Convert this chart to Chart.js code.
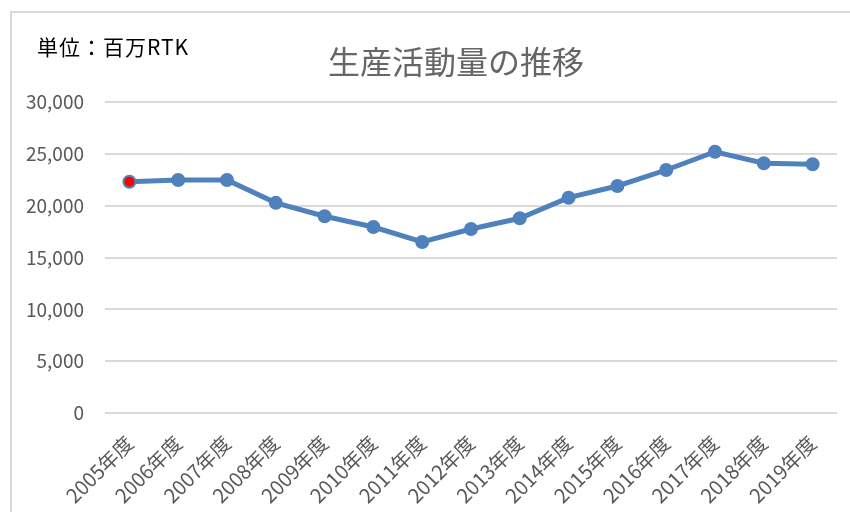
<!DOCTYPE html>
<html>
<head>
<meta charset="utf-8">
<script src="https://cdn.jsdelivr.net/npm/chart.js@4"></script>
<style>
    html, body { margin: 0; padding: 0; background: #fff; overflow: hidden; }
    #wrap { position: relative; width: 850px; height: 512px; }
    #frame { position: absolute; left: 10px; top: 11px; width: 860px; height: 520px; border: 2px solid #d9d9d9; box-sizing: border-box; }
    #chart { position: absolute; left: 0; top: 0; }
</style>
</head>
<body>
<div id="wrap">
    <div id="frame"></div>
    <canvas id="chart" width="850" height="512"></canvas>
</div>
<script>
// ---- data ----
const years = ["2005年度", "2006年度", "2007年度", "2008年度", "2009年度", "2010年度", "2011年度", "2012年度",
    "2013年度", "2014年度", "2015年度", "2016年度", "2017年度", "2018年度", "2019年度"];
const production = [22300, 22480, 22480, 20270, 18980, 17940, 16500, 17750, 18780, 20770, 21900, 23440, 25200, 24090, 23990];
const yTicks = [0, 5000, 10000, 15000, 20000, 25000, 30000];

const chartTitle = "生産活動量の推移";
const unitLabel = "単位：百万RTK";

const blue = "#4f81bd";
const grey = "#595959";
const font = "'Noto Sans CJK JP', 'Noto Sans', sans-serif";

// first point highlighted in red
const pointFill = production.map((v, i) => i === 0 ? "#ff0000" : blue);

const headerText = {
    id: "headerText",
    afterDraw(chart) {
        const ctx = chart.ctx;
        ctx.save();
        ctx.textBaseline = "middle";
        ctx.fillStyle = "#000";
        ctx.font = "21px " + font;
        ctx.letterSpacing = "1px";
        ctx.textAlign = "left";
        ctx.fillText(unitLabel, 37, 47);
        ctx.letterSpacing = "0px";
        ctx.fillStyle = "#666";
        ctx.font = "32px " + font;
        ctx.textAlign = "center";
        ctx.fillText(chartTitle, 456, 62);
        ctx.restore();
    }
};

new Chart(document.getElementById("chart"), {
    type: "line",
    data: {
        labels: years,
        datasets: [{
            data: production,
            borderColor: blue,
            borderWidth: 5,
            backgroundColor: pointFill,
            pointBorderColor: blue,
            pointBorderWidth: 2,
            pointRadius: 6,
            pointHoverRadius: 6,
            tension: 0,
            fill: false,
        }],
    },
    options: {
        responsive: false,
        animation: false,
        layout: { padding: { left: 20, right: 13, top: 102, bottom: 0 } },
        plugins: {
            legend: { display: false },
            tooltip: { enabled: false },
        },
        scales: {
            x: {
                offset: true,
                grid: { display: false, drawTicks: false },
                border: { display: false },
                ticks: {
                    color: grey,
                    font: { family: font, size: 20 },
                    minRotation: 45,
                    maxRotation: 45,
                    padding: 18,
                },
                afterFit(scale) { scale.height = 99; },
            },
            y: {
                min: 0,
                max: 30000,
                afterBuildTicks(scale) { scale.ticks = yTicks.map(v => ({ value: v })); },
                grid: { color: "#d9d9d9", lineWidth: 2, drawTicks: false },
                border: { display: false },
                ticks: {
                    color: grey,
                    font: { family: font, size: 19 },
                    padding: 21,
                    callback: v => v.toLocaleString("en-US"),
                },
                afterFit(scale) { scale.width = 85; },
            },
        },
    },
    plugins: [headerText],
});
</script>
</body>
</html>
